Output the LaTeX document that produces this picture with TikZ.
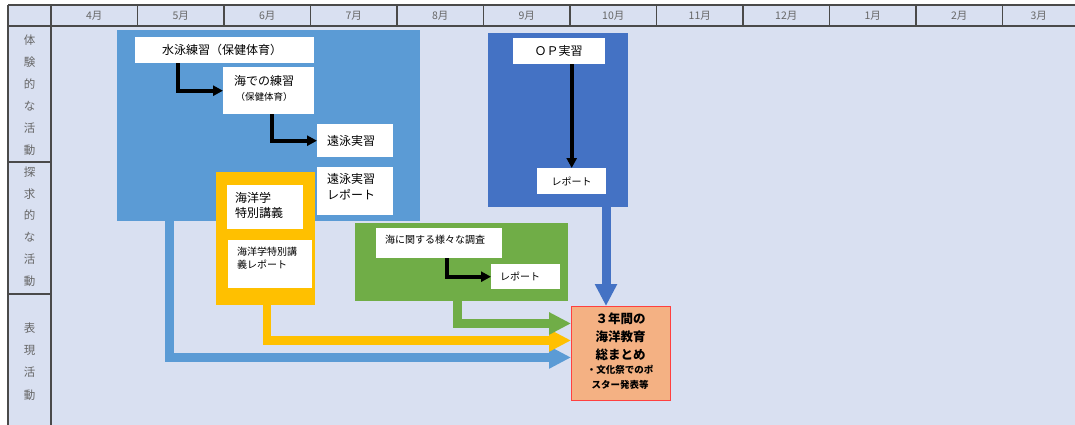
\documentclass[tikz,border=0pt]{standalone}
\usepackage{fontspec}
\setmainfont{Noto Sans CJK JP}
\usetikzlibrary{arrows.meta,calc}
\definecolor{bgc}{HTML}{D9E0F1}
\definecolor{lineg}{HTML}{4A4A4A}
\definecolor{txtg}{HTML}{666666}
\definecolor{blueA}{HTML}{5B9BD5}
\definecolor{blueB}{HTML}{4472C4}
\definecolor{yelc}{HTML}{FFC000}
\definecolor{grnc}{HTML}{70AD47}
\definecolor{salmon}{HTML}{F4B183}
\definecolor{redb}{HTML}{FF4040}
\tikzset{
  tline/.style={draw=lineg, line width=1.1pt},
  mlabel/.style={font=\fontsize{10.5}{12}\selectfont, text=txtg, inner sep=0pt},
  rlabel/.style={align=center, text=txtg, inner sep=0pt},
  area/.style={inner sep=0pt, anchor=north west},
  wbox/.style={fill=white, inner sep=0pt, anchor=north west},
  ctext/.style={inner sep=0pt, align=center},
  ltext/.style={inner sep=0pt, align=left, anchor=west},
  blk/.style={draw=black, line width=3.8pt, -{Triangle[length=10pt,width=10pt]}},
  bigarrow/.style={line width=9pt, -{Triangle[length=22pt,width=21pt]}},
}
\begin{document}
\begin{tikzpicture}[x=1pt,y=-1pt]
\useasboundingbox (0,0) rectangle (1075,425);
\fill[white] (0,0) rectangle (1075,425);
\fill[bgc] (8,5) rectangle (1075,425);
% table lines
\draw[tline] (8,5) -- (1075,5);
\draw[tline] (8,26) -- (1075,26);
\draw[tline] (8,5) -- (8,425);
\draw[tline] (51,5) -- (51,425);
\draw[tline] (8,162) -- (51,162);
\draw[tline] (8,294) -- (51,294);
\foreach \x in {137.5,224,310.5,397,483.5,570,656.5,743,829.5,916,1002.5}
  \draw[tline] (\x,5) -- (\x,26);
% month labels
\foreach \t/\x [count=\i] in {4月/94.25,5月/180.75,6月/267.25,7月/353.75,8月/440.25,9月/526.75,10月/613.25,11月/699.75,12月/786.25,1月/872.75,2月/959.25,3月/1038.75}
  \node[mlabel] (m\i) at (\x,16) {\t};
% row labels
\node[rlabel, font=\fontsize{11.5}{22}\selectfont] (r1) at (29.5,95) {体\\験\\的\\な\\活\\動};
\node[rlabel, font=\fontsize{11.5}{21.8}\selectfont] (r2) at (29.5,226.5) {探\\求\\的\\な\\活\\動};
\node[rlabel, font=\fontsize{11.5}{22.3}\selectfont] (r3) at (29.5,361.5) {表\\現\\活\\動};
% areas
\node[area, fill=blueA, minimum width=303pt, minimum height=191pt] (bigB) at (117,30) {};
\node[area, fill=blueB, minimum width=140pt, minimum height=174pt] (op) at (488,33) {};
\node[area, fill=yelc, minimum width=99pt, minimum height=133pt] (yelb) at (216,172) {};
\node[area, fill=grnc, minimum width=213pt, minimum height=78pt] (grnb) at (355,223) {};
% white boxes
\node[wbox, minimum width=179pt, minimum height=26pt] (swim) at (135,37) {};
\node[ctext, font=\fontsize{12}{14}\selectfont] (swimT) at (222,50) {水泳練習（保健体育）};
\node[wbox, minimum width=91pt, minimum height=47pt] (sea) at (223,67) {};
\node[ctext, font=\fontsize{9.5}{15}\selectfont] (seaT) at (264,88.5) {{\fontsize{12}{15}\selectfont 海での練習}\\（保健体育）};
\node[wbox, minimum width=76pt, minimum height=33pt] (enei) at (317,124) {};
\node[ctext, font=\fontsize{12}{14}\selectfont] (eneiT) at (351,140.5) {遠泳実習};
\node[wbox, minimum width=76pt, minimum height=48pt] (eneiR) at (317,167) {};
\node[ltext, font=\fontsize{12}{16}\selectfont] (eneiRT) at (327,187) {遠泳実習\\レポート};
\node[wbox, minimum width=76pt, minimum height=44pt] (kai1) at (227,185) {};
\node[ltext, font=\fontsize{12}{15}\selectfont] (kai1T) at (235,205.5) {海洋学\\特別講義};
\node[wbox, minimum width=84pt, minimum height=48pt] (kai2) at (228,240) {};
\node[ltext, font=\fontsize{10}{13}\selectfont] (kai2T) at (237,258.5) {海洋学特別講\\義レポート};
\node[wbox, minimum width=126pt, minimum height=30pt] (umi) at (376,228) {};
\node[ltext, font=\fontsize{10}{12}\selectfont] (umiT) at (385,240) {海に関する様々な調査};
\node[wbox, minimum width=69pt, minimum height=25pt] (grep) at (491,264) {};
\node[ltext, font=\fontsize{10}{12}\selectfont] (grepT) at (500,276) {レポート};
\node[wbox, minimum width=92pt, minimum height=26pt] (opj) at (513,38) {};
\node[ctext, font=\fontsize{12}{14}\selectfont] (opjT) at (558.5,51) {ＯＰ実習};
\node[wbox, minimum width=69pt, minimum height=26pt] (oprep) at (537,168) {};
\node[ctext, font=\fontsize{10}{12}\selectfont] (oprepT) at (571.5,181) {レポート};
% black arrows
\coordinate (a1) at ([xshift=43pt]swim.south west);
\draw[blk] (a1) |- (sea.west);
\coordinate (a2) at ([xshift=49pt]sea.south west);
\draw[blk] (a2) |- (enei.west);
\coordinate (a3) at ([xshift=71pt]umi.south west);
\draw[blk] (a3) |- (grep.west);
\draw[blk] (oprep.north |- opj.south) -- (oprep.north);
% summary box
\node[area, fill=salmon, draw=redb, line width=0.9pt, minimum width=99pt, minimum height=94pt] (sum) at (571,306) {};
\node[ctext, font=\bfseries\fontsize{12.5}{18}\selectfont] (sumA) at (620.5,337) {３年間の\\海洋教育\\総まとめ};
\node[ctext, font=\bfseries\fontsize{9.5}{15}\selectfont] (sumB) at (620,377.5) {・文化祭でのポ\\スター発表等};
% coloured arrows
\coordinate (c1) at ([xshift=52pt]bigB.south west);
\draw[bigarrow, draw=blueA] (c1) |- ([yshift=-4pt]sum.west);
\coordinate (c2) at ([xshift=51pt]yelb.south west);
\draw[bigarrow, draw=yelc, line width=8.5pt] (c2) |- ([yshift=13pt]sum.west);
\coordinate (c3) at ([xshift=102.5pt]grnb.south west);
\draw[bigarrow, draw=grnc] (c3) |- ([yshift=30pt]sum.west);
\coordinate (c4) at ([xshift=118pt]op.south west);
\draw[bigarrow, draw=blueB] (c4) -- (c4 |- sum.north);
\end{tikzpicture}
\end{document}
